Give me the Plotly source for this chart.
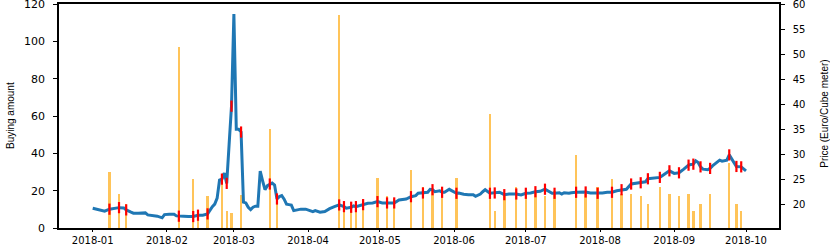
import plotly.graph_objects as go

# ---- Data ----
price_dates = [
    "2018-01-01", "2018-01-03", "2018-01-05", "2018-01-06", "2018-01-08", "2018-01-10", "2018-01-12",
    "2018-01-14", "2018-01-15", "2018-01-17", "2018-01-18", "2018-01-20", "2018-01-23", "2018-01-24",
    "2018-01-26", "2018-01-27", "2018-01-28", "2018-01-30", "2018-01-31", "2018-02-02", "2018-02-04",
    "2018-02-05", "2018-02-06", "2018-02-08", "2018-02-10", "2018-02-12", "2018-02-14", "2018-02-16",
    "2018-02-18", "2018-02-19", "2018-02-20", "2018-02-21", "2018-02-22", "2018-02-23", "2018-02-24",
    "2018-02-25", "2018-02-26", "2018-02-27", "2018-02-28", "2018-03-01", "2018-03-02", "2018-03-03",
    "2018-03-04", "2018-03-05", "2018-03-06", "2018-03-07", "2018-03-08", "2018-03-09", "2018-03-10",
    "2018-03-11", "2018-03-12", "2018-03-13", "2018-03-14", "2018-03-15", "2018-03-16", "2018-03-17",
    "2018-03-18", "2018-03-19", "2018-03-20", "2018-03-21", "2018-03-22", "2018-03-23", "2018-03-24",
    "2018-03-25", "2018-03-26", "2018-03-27", "2018-03-29", "2018-03-31", "2018-04-02", "2018-04-03",
    "2018-04-04", "2018-04-06", "2018-04-08", "2018-04-10", "2018-04-12", "2018-04-14", "2018-04-16",
    "2018-04-17", "2018-04-19", "2018-04-20", "2018-04-21", "2018-04-23", "2018-04-24", "2018-04-26",
    "2018-04-28", "2018-04-30", "2018-05-02", "2018-05-04", "2018-05-05", "2018-05-07", "2018-05-09",
    "2018-05-11", "2018-05-12", "2018-05-14", "2018-05-16", "2018-05-17", "2018-05-19", "2018-05-21",
    "2018-05-22", "2018-05-23", "2018-05-24", "2018-05-26", "2018-05-27", "2018-05-28", "2018-05-30",
    "2018-05-31", "2018-06-02", "2018-06-03", "2018-06-05", "2018-06-07", "2018-06-09", "2018-06-10",
    "2018-06-12", "2018-06-13", "2018-06-14", "2018-06-16", "2018-06-18", "2018-06-20", "2018-06-22",
    "2018-06-24", "2018-06-27", "2018-06-29", "2018-07-01", "2018-07-03", "2018-07-05", "2018-07-07",
    "2018-07-09", "2018-07-10", "2018-07-12", "2018-07-13", "2018-07-15", "2018-07-16", "2018-07-17",
    "2018-07-19", "2018-07-20", "2018-07-22", "2018-07-24", "2018-07-26", "2018-07-28", "2018-07-31",
    "2018-08-02", "2018-08-04", "2018-08-06", "2018-08-08", "2018-08-10", "2018-08-12", "2018-08-14",
    "2018-08-16", "2018-08-18", "2018-08-20", "2018-08-21", "2018-08-23", "2018-08-26", "2018-08-27",
    "2018-08-28", "2018-08-30", "2018-09-01", "2018-09-03", "2018-09-05", "2018-09-07", "2018-09-08",
    "2018-09-09", "2018-09-10", "2018-09-11", "2018-09-12", "2018-09-13", "2018-09-15", "2018-09-16",
    "2018-09-17", "2018-09-18", "2018-09-20", "2018-09-21", "2018-09-23", "2018-09-24", "2018-09-25",
    "2018-09-27", "2018-09-29", "2018-09-30", "2018-10-01",
]
price_values = [
    19.18, 18.99, 18.71, 18.59, 18.99, 19.18, 19.30,
    19.24, 18.85, 18.39, 18.19, 18.19, 18.25, 17.85,
    17.71, 17.79, 17.59, 17.26, 17.91, 17.99, 17.99,
    17.65, 17.59, 17.59, 17.52, 17.52, 17.79, 17.79,
    18.05, 18.85, 19.50, 20.00, 21.20, 24.80, 25.00,
    26.20, 24.15, 31.90, 39.58, 58.00, 34.95, 34.95,
    34.41, 20.38, 20.24, 19.38, 18.91, 19.38, 19.58,
    19.58, 26.60, 24.67, 22.88, 23.68, 24.02, 24.20,
    23.82, 21.03, 21.50, 21.70, 21.00, 20.00, 19.90,
    19.80, 18.70, 18.85, 19.00, 18.99, 18.60, 18.51,
    18.71, 18.39, 18.51, 19.10, 19.50, 19.84, 19.50,
    19.18, 19.38, 19.64, 19.50, 19.78, 19.90, 20.18,
    20.24, 20.50, 20.24, 20.24, 20.38, 20.24, 20.83,
    20.97, 21.03, 21.49, 21.69, 22.17, 22.23, 22.37,
    22.96, 22.88, 22.48, 22.68, 22.37, 22.37, 22.96,
    22.68, 22.17, 22.23, 21.97, 21.89, 21.89, 21.57,
    22.03, 22.48, 22.88, 22.17, 22.23, 22.37, 21.89,
    22.03, 22.03, 21.83, 22.17, 22.23, 22.48, 22.56,
    22.98, 22.68, 22.17, 22.17, 22.29, 22.03, 22.29,
    22.17, 22.29, 22.37, 22.37, 22.43, 22.23, 22.17,
    22.23, 22.37, 22.37, 22.68, 22.88, 22.96, 24.02,
    24.15, 24.27, 24.47, 25.07, 25.15, 25.35, 25.67,
    26.00, 26.66, 26.14, 26.26, 27.00, 27.79, 27.93,
    27.99, 28.65, 28.33, 27.45, 27.00, 26.86, 27.14,
    27.65, 27.99, 28.79, 28.59, 28.79, 29.84, 28.99,
    27.53, 27.45, 27.14, 26.66,
]

buy_dates = [
    "2018-01-08", "2018-01-12", "2018-01-15", "2018-02-06", "2018-02-12", "2018-02-14",
    "2018-02-18", "2018-02-24", "2018-02-26", "2018-02-28", "2018-03-04", "2018-03-16",
    "2018-03-19", "2018-04-14", "2018-04-16", "2018-04-19", "2018-04-21", "2018-04-24",
    "2018-04-30", "2018-05-04", "2018-05-07", "2018-05-14", "2018-05-19", "2018-05-23",
    "2018-05-27", "2018-06-02", "2018-06-16", "2018-06-18", "2018-06-22", "2018-06-27",
    "2018-07-01", "2018-07-05", "2018-07-09", "2018-07-13", "2018-07-22", "2018-07-26",
    "2018-07-31", "2018-08-06", "2018-08-10", "2018-08-14", "2018-08-18", "2018-08-21",
    "2018-08-26", "2018-08-30", "2018-09-03", "2018-09-07", "2018-09-09", "2018-09-12",
    "2018-09-16", "2018-09-24", "2018-09-27", "2018-09-29",
]
buy_amounts = [
    30, 18, 13, 97, 26, 9,
    17, 26, 9, 8, 17.5, 53,
    13, 114, 9, 12, 9, 13,
    27, 17, 15.5, 31, 22, 20,
    20, 27, 61, 9, 17, 22,
    18, 20, 17, 20, 39, 18,
    22, 26, 18, 18, 17, 13,
    22, 18, 17, 18, 9, 13,
    18, 35, 13, 9,
]

left_ticks = [0, 20, 40, 60, 80, 100, 120]
right_ticks = [20, 25, 30, 35, 40, 45, 50, 55, 60]
month_ticks = ["2018-01-01", "2018-02-01", "2018-03-01", "2018-04-01", "2018-05-01",
               "2018-06-01", "2018-07-01", "2018-08-01", "2018-09-01", "2018-10-01"]
month_labels = ["2018-01", "2018-02", "2018-03", "2018-04", "2018-05",
                "2018-06", "2018-07", "2018-08", "2018-09", "2018-10"]

price_lookup = dict(zip(price_dates, price_values))
buy_prices = [price_lookup[d] for d in buy_dates]

fig = go.Figure()
fig.add_trace(go.Bar(
    x=buy_dates, y=buy_amounts, yaxis="y",
    marker=dict(color="rgba(255,165,0,0.65)", line=dict(width=0)),
    width=1.0 * 86400000, showlegend=False,
))
fig.add_trace(go.Scatter(
    x=price_dates, y=price_values, yaxis="y2", mode="lines",
    line=dict(color="#1f77b4", width=3), showlegend=False,
))
fig.add_trace(go.Scatter(
    x=buy_dates, y=buy_prices, yaxis="y2", mode="markers",
    marker=dict(symbol="line-ns-open", size=8, color="red",
                line=dict(color="red", width=2.2)),
    showlegend=False,
))

tick_font = dict(family="DejaVu Sans", size=10, color="black")
ytick_font = dict(family="DejaVu Sans", size=11, color="black")
fig.update_layout(
    width=830, height=246,
    margin=dict(l=59, r=51, t=4, b=18),
    paper_bgcolor="white", plot_bgcolor="white",
    bargap=0,
    xaxis=dict(
        type="date", range=["2017-12-17T22:00", "2018-10-14T19:00"],
        tickvals=month_ticks, ticktext=month_labels,
        showline=True, linecolor="black", linewidth=1.5, mirror=True,
        ticks="outside", ticklen=2, tickcolor="black", tickwidth=1.2,
        showgrid=False, zeroline=False, tickfont=tick_font, automargin=False,
        ticklabeloverflow="allow",
    ),
    yaxis=dict(
        range=[0, 120], tickvals=left_ticks,
        showline=True, linecolor="black", linewidth=1.5,
        ticks="outside", ticklen=4, tickcolor="black", tickwidth=1.2,
        showgrid=False, zeroline=False, tickfont=ytick_font,
        ticklabelstandoff=6, automargin=False, ticklabeloverflow="allow",
    ),
    yaxis2=dict(
        range=[15.23, 60], tickvals=right_ticks, overlaying="y", side="right",
        showline=True, linecolor="black", linewidth=1.5,
        ticks="outside", ticklen=4, tickcolor="black", tickwidth=1.2,
        showgrid=False, zeroline=False, tickfont=tick_font,
        ticklabelstandoff=6, automargin=False, ticklabeloverflow="allow",
    ),
    annotations=[
        dict(text="Buying amount", xref="paper", yref="paper", x=-0.068, y=0.5,
             xanchor="center", yanchor="middle",
             showarrow=False, textangle=-90, font=dict(family="Liberation Sans", size=10, color="black")),
        dict(text="Price (Euro/Cube meter)", xref="paper", yref="paper", x=1.0639, y=0.51,
             xanchor="center", yanchor="middle",
             showarrow=False, textangle=-90, font=dict(family="Liberation Sans", size=10, color="black")),
    ],
)

fig.write_html("out.html", config={"displayModeBar": False},
               post_script="document.body.style.margin='0';document.body.style.overflow='hidden';")
